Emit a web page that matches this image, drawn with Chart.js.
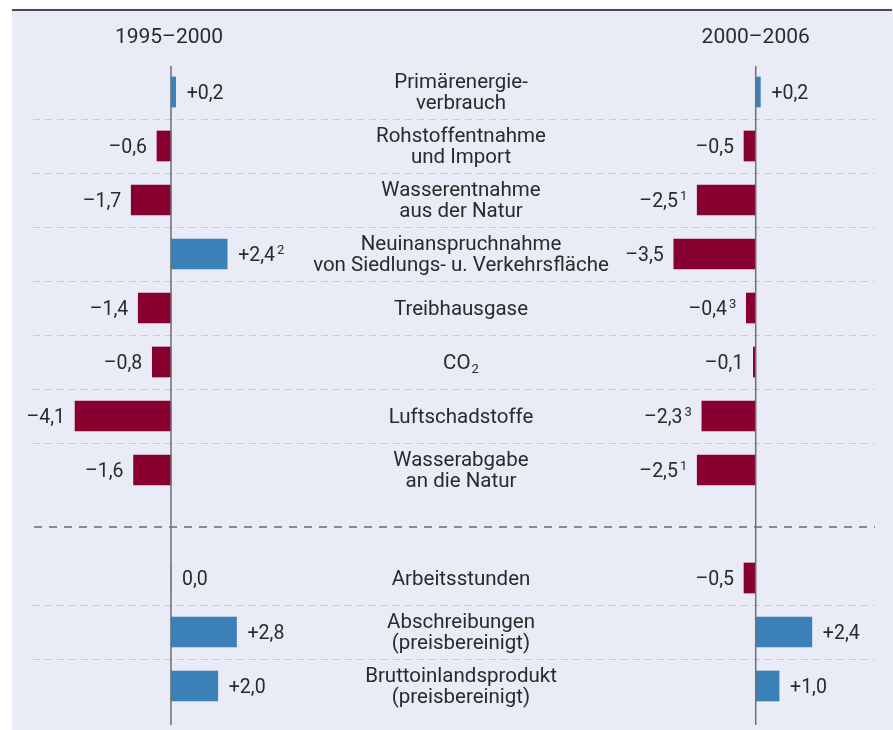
<!DOCTYPE html>
<html lang="de">
<head>
<meta charset="utf-8">
<title>Umweltindikatoren 1995–2000 und 2000–2006</title>
<script src="https://cdn.jsdelivr.net/npm/chart.js@4.4.1/dist/chart.umd.min.js"></script>
<style>
  html, body { margin: 0; padding: 0; background: #fff; }
  canvas { display: block; }
</style>
</head>
<body>
<canvas id="chart" width="893" height="730"></canvas>
<script>
// Beschriftungen in der Mitte; die leere Zeile ist der Trenner vor den Wirtschaftsgrößen
const kategorien = [
  ['Primärenergie-', 'verbrauch'],
  ['Rohstoffentnahme', 'und Import'],
  ['Wasserentnahme', 'aus der Natur'],
  ['Neuinanspruchnahme', 'von Siedlungs- u. Verkehrsfläche'],
  ['Treibhausgase'],
  ['CO₂'],
  ['Luftschadstoffe'],
  ['Wasserabgabe', 'an die Natur'],
  [''],
  ['Arbeitsstunden'],
  ['Abschreibungen', '(preisbereinigt)'],
  ['Bruttoinlandsprodukt', '(preisbereinigt)']
];
const perioden = ['1995–2000', '2000–2006'];
const werte1995 = [0.2, -0.6, -1.7, 2.4, -1.4, -0.8, -4.1, -1.6, null, 0.0, 2.8, 2.0];
const werte2000 = [0.2, -0.5, -2.5, -3.5, -0.4, -0.1, -2.3, -2.5, null, -0.5, 2.4, 1.0];
const fussnoten1995 = ['', '', '', '2', '', '', '', '', '', '', '', ''];
const fussnoten2000 = ['', '', '1', '', '3', '', '3', '1', '', '', '', ''];

const ROT = '#870030';
const BLAU = '#3b81b7';
const TEXT = '#2a2a2a';
const FONT = 'Roboto, "Liberation Sans", sans-serif';
const GR_MITTE = 20.5, GR_WERT = 19.5, GR_KLEIN = 13;

// Layout: Pixel pro Einheit, Nulllinien links/rechts, Zeichenfläche
const PX = 23.4, NULL_L = 171, NULL_R = 755.7, LINKS = 12, BREITE = 893;
const MITTE = 461;
const spanne = (BREITE - LINKS) / PX;

function fmt(v) {
  if (v === 0) return '0,0';
  return (v > 0 ? '+' : '–') + Math.abs(v).toFixed(1).replace('.', ',');
}

// Zeile zentriert zeichnen, tiefgestellte Ziffer (₂) klein und versetzt
function zeile(c, s, x, y) {
  c.font = `${GR_MITTE}px ${FONT}`;
  const m = s.match(/^(.*?)([₀-₉])$/);
  if (!m) {
    c.textAlign = 'center';
    c.fillText(s, x, y);
    return;
  }
  const sub = String.fromCharCode(m[2].charCodeAt(0) - 0x2080 + 48);
  const w1 = c.measureText(m[1]).width;
  c.font = `${GR_KLEIN}px ${FONT}`;
  const w2 = c.measureText(sub).width;
  const x0 = x - (w1 + w2 + 1) / 2;
  c.textAlign = 'left';
  c.font = `${GR_MITTE}px ${FONT}`;
  c.fillText(m[1], x0, y);
  c.font = `${GR_KLEIN}px ${FONT}`;
  c.fillText(sub, x0 + w1 + 1, y + 4);
}

const gestaltung = {
  id: 'gestaltung',
  beforeDraw(chart) {
    const c = chart.ctx;
    c.save();
    c.fillStyle = '#ffffff';
    c.fillRect(0, 0, chart.width, chart.height);
    c.fillStyle = '#e9ecf7';
    c.fillRect(LINKS, 10, chart.width - LINKS, chart.height - 10);
    c.strokeStyle = '#4a4a4a';
    c.lineWidth = 2;
    c.beginPath();
    c.moveTo(LINKS, 10);
    c.lineTo(chart.width - 1, 10);
    c.stroke();
    c.restore();
  },
  beforeDatasetsDraw(chart) {
    const c = chart.ctx, y = chart.scales.y;
    const leer = kategorien.findIndex(k => k[0] === '');
    c.save();
    // helle Trennlinien zwischen den Zeilen
    c.strokeStyle = '#c6c9d2';
    c.lineWidth = 1;
    c.setLineDash([7, 5]);
    for (let i = 0; i < kategorien.length - 1; i++) {
      if (i === leer || i + 1 === leer) continue;
      const yy = Math.round((y.getPixelForValue(i) + y.getPixelForValue(i + 1)) / 2) + 0.5;
      c.beginPath();
      c.moveTo(33, yy);
      c.lineTo(875, yy);
      c.stroke();
    }
    // dunkle Trennlinie in der leeren Zeile
    c.strokeStyle = '#6a6a6a';
    c.lineWidth = 1.6;
    c.setLineDash([8, 7]);
    const yl = y.getPixelForValue(leer) + 3;
    c.beginPath();
    c.moveTo(34, yl);
    c.lineTo(875, yl);
    c.stroke();
    c.restore();
  },
  afterDatasetsDraw(chart) {
    const c = chart.ctx, y = chart.scales.y;
    c.save();
    // Nulllinien
    c.strokeStyle = '#707070';
    c.lineWidth = 1.5;
    ['xL', 'xR'].forEach(id => {
      const x0 = chart.scales[id].getPixelForValue(0);
      c.beginPath();
      c.moveTo(x0, 66);
      c.lineTo(x0, 725);
      c.stroke();
    });
    c.fillStyle = TEXT;
    // Periodenüberschriften
    c.font = `21px ${FONT}`;
    c.textAlign = 'center';
    c.textBaseline = 'alphabetic';
    c.fillText(perioden[0], chart.scales.xL.getPixelForValue(0) - 2, 43);
    c.fillText(perioden[1], chart.scales.xR.getPixelForValue(0), 43);
    // mittlere Beschriftungen
    kategorien.forEach((k, i) => {
      const yc = y.getPixelForValue(i);
      if (k.length === 1) {
        zeile(c, k[0], MITTE, yc + 7);
      } else {
        zeile(c, k[0], MITTE, yc - 4);
        zeile(c, k[1], MITTE, yc + 17);
      }
    });
    // Wertbeschriftungen mit Fußnoten
    [[werte1995, fussnoten1995], [werte2000, fussnoten2000]].forEach(([werte, noten], d) => {
      chart.getDatasetMeta(d).data.forEach((bar, i) => {
        const v = werte[i];
        if (v === null || v === undefined) return;
        const txt = fmt(v), note = noten[i];
        c.font = `${GR_WERT}px ${FONT}`;
        const w = c.measureText(txt).width;
        c.font = `${GR_KLEIN}px ${FONT}`;
        const wn = note ? c.measureText(note).width + 2 : 0;
        const yb = bar.y + 7;
        const x0 = v >= 0 ? bar.x + 11 : bar.x - 10 - w - wn;
        c.textAlign = 'left';
        c.font = `${GR_WERT}px ${FONT}`;
        c.fillText(txt, x0, yb);
        if (note) {
          c.font = `${GR_KLEIN}px ${FONT}`;
          c.fillText(note, x0 + w + 2, yb - 7);
        }
      });
    });
    c.restore();
  }
};

const farbe = ctx => (ctx.raw >= 0 ? BLAU : ROT);

new Chart(document.getElementById('chart'), {
  type: 'bar',
  data: {
    labels: kategorien,
    datasets: [
      { label: perioden[0], data: werte1995, xAxisID: 'xL', backgroundColor: farbe },
      { label: perioden[1], data: werte2000, xAxisID: 'xR', backgroundColor: farbe }
    ]
  },
  options: {
    indexAxis: 'y',
    responsive: false,
    animation: false,
    layout: { padding: { left: LINKS, right: 0, top: 65, bottom: 17 } },
    datasets: { bar: { grouped: false, barThickness: 30, borderWidth: 0 } },
    scales: {
      y: { type: 'category', display: false, offset: true },
      xL: {
        type: 'linear', axis: 'x', display: false,
        min: -(NULL_L - LINKS) / PX, max: spanne - (NULL_L - LINKS) / PX
      },
      xR: {
        type: 'linear', axis: 'x', display: false,
        min: -(NULL_R - LINKS) / PX, max: spanne - (NULL_R - LINKS) / PX
      }
    },
    plugins: { legend: { display: false }, tooltip: { enabled: false } }
  },
  plugins: [gestaltung]
});
</script>
</body>
</html>
